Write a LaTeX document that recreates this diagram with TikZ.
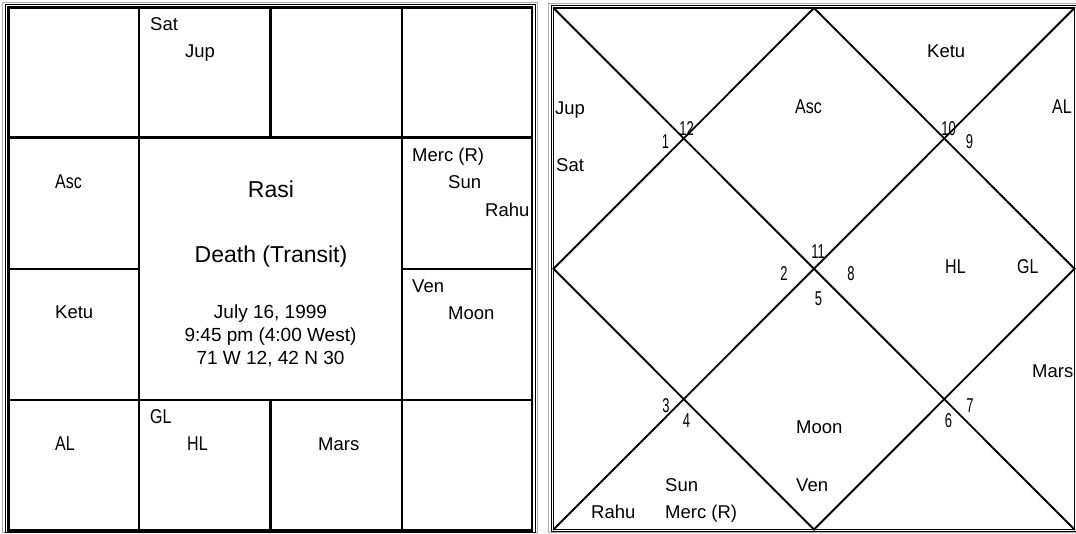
\documentclass[tikz,border=0pt]{standalone}
\usepackage{fontspec}
\setmainfont{Liberation Sans}
\newcommand\narw[1]{\scalebox{0.8}[1]{\fontsize{20}{22}\selectfont #1}}
\newcommand\hnum[1]{\scalebox{0.65}[1]{\fontsize{20}{22}\selectfont #1}}
\tikzset{
  gridline/.style={line width=2.2pt, line cap=rect},
  dline/.style={line width=1.9pt, line cap=round},
  frameg/.style={gray!65, line width=1pt},
  frameb/.style={black, line width=1pt},
  pl/.style={font=\fontsize{18.5}{20}\selectfont, inner sep=0pt, anchor=base west},
  nl/.style={inner sep=0pt, anchor=base west},
  hn/.style={inner sep=0pt, anchor=base},
  ctitle/.style={font=\fontsize{23}{26}\selectfont, inner sep=0pt, anchor=base},
  cdate/.style={font=\fontsize{19}{21}\selectfont, inner sep=0pt, anchor=base},
}
\begin{document}
\begin{tikzpicture}[x=1pt,y=-1pt]
\useasboundingbox (0,0) rectangle (1076,533);
% ---------------- left chart (South Indian) ----------------
\draw[frameg] (2.5,2) rectangle (537.5,532.8);
\draw[frameb] (5,4.5) rectangle (535,532);
\draw[gridline] (8.5,7.5) rectangle (532,530.5);
\draw[gridline] (139,7.5) -- (139,530.5);
\draw[gridline] (402,7.5) -- (402,530.5);
\draw[gridline] (270.5,7.5) -- (270.5,137.5);
\draw[gridline] (270.5,400) -- (270.5,530.5);
\draw[gridline] (8.5,137.5) -- (532,137.5);
\draw[gridline] (8.5,400) -- (532,400);
\draw[gridline] (8.5,269) -- (139,269);
\draw[gridline] (402,269) -- (532,269);
% left chart texts
\node[pl] (lsat) at (150,30) {Sat};
\node[pl] (ljup) at (185,57) {Jup};
\node[nl] (lasc) at (55,188) {\narw{Asc}};
\node[pl] (lketu) at (55,318) {Ketu};
\node[pl] (lmerc) at (412,161) {Merc (R)};
\node[pl] (lsun) at (448,188) {Sun};
\node[pl] (lrahu) at (485,216) {Rahu};
\node[pl] (lven) at (412,292) {Ven};
\node[pl] (lmoon) at (448,319) {Moon};
\node[nl] (lal) at (55,450) {\narw{AL}};
\node[nl] (lgl) at (150,423) {\narw{GL}};
\node[nl] (lhl) at (187,450) {\narw{HL}};
\node[pl] (lmars) at (318,450) {Mars};
\node[ctitle] (rasi) at (271,197) {Rasi};
\node[ctitle] (death) at (271,262) {Death (Transit)};
\node[cdate] (date) at (270.5,318) {July 16, 1999};
\node[cdate] (time) at (270.5,341) {9:45 pm (4:00 West)};
\node[cdate] (place) at (270.5,364) {71 W 12, 42 N 30};
% ---------------- right chart (North Indian) ----------------
\draw[frameg] (1080,3) -- (548,3) -- (548,532.5) -- (1080,532.5);
\draw[frameb] (1080,5.5) -- (551,5.5) -- (551,531.5) -- (1080,531.5);
\draw[dline] (553.5,8) rectangle (1074.5,529.5);
\coordinate (tl) at (553.5,8);
\coordinate (tr) at (1074.5,8);
\coordinate (bl) at (553.5,529.5);
\coordinate (br) at (1074.5,529.5);
\coordinate (tm) at (814,8);
\coordinate (bm) at (814,529.5);
\coordinate (lm) at (553.5,268.75);
\coordinate (rm) at (1074.5,268.75);
\draw[dline] (tl) -- (br);
\draw[dline] (tr) -- (bl);
\draw[dline] (tm) -- (rm) -- (bm) -- (lm) -- cycle;
% right chart texts
\node[pl] (rjup) at (555,114) {Jup};
\node[pl] (rsat) at (556,171) {Sat};
\node[nl] (rasc) at (795,113) {\narw{Asc}};
\node[pl] (rketu) at (927,57) {Ketu};
\node[nl] (ral) at (1052,113) {\narw{AL}};
\node[nl] (rhl) at (945,273) {\narw{HL}};
\node[nl] (rgl) at (1017,273) {\narw{GL}};
\node[pl] (rmars) at (1032,377) {Mars};
\node[pl] (rmoon) at (796,433) {Moon};
\node[pl] (rven) at (796,491) {Ven};
\node[pl] (rsun) at (665,491) {Sun};
\node[pl] (rmerc) at (665,518) {Merc (R)};
\node[pl] (rrahu) at (591,518) {Rahu};
% sign numbers
\node[hn] (n1) at (665.5,148) {\hnum{1}};
\node[hn] (n12) at (686.5,135) {\hnum{12}};
\node[hn] (n10) at (948.5,135) {\hnum{10}};
\node[hn] (n9) at (969.5,148) {\hnum{9}};
\node[hn] (n11) at (818,258) {\hnum{11}};
\node[hn] (n2) at (784,280) {\hnum{2}};
\node[hn] (n8) at (851,280) {\hnum{8}};
\node[hn] (n5) at (818.5,305) {\hnum{5}};
\node[hn] (n3) at (666,412) {\hnum{3}};
\node[hn] (n4) at (686.5,427) {\hnum{4}};
\node[hn] (n7) at (970,412) {\hnum{7}};
\node[hn] (n6) at (948.5,427) {\hnum{6}};
\end{tikzpicture}
\end{document}
